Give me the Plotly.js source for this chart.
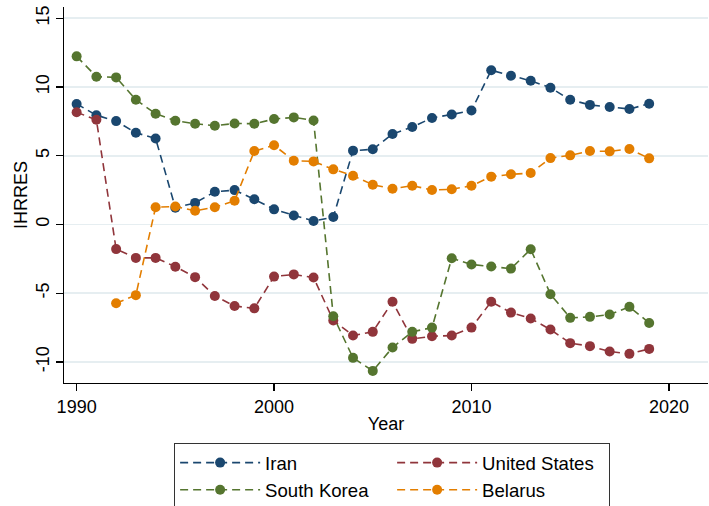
<!DOCTYPE html>
<html>
<head>
<meta charset="utf-8">
<script src="https://cdn.plot.ly/plotly-3.0.1.min.js"></script>
<style>
  html, body { margin: 0; padding: 0; background: #ffffff; }
  #chart { width: 709px; height: 506px; }
</style>
</head>
<body>
<div id="chart"></div>
<script>
// IHRRES by country, 1990-2019
const years = [1990, 1991, 1992, 1993, 1994, 1995, 1996, 1997, 1998, 1999,
               2000, 2001, 2002, 2003, 2004, 2005, 2006, 2007, 2008, 2009,
               2010, 2011, 2012, 2013, 2014, 2015, 2016, 2017, 2018, 2019];

const iran = [8.77, 7.95, 7.52, 6.67, 6.26, 1.22, 1.57, 2.38, 2.5, 1.83,
              1.1, 0.65, 0.25, 0.54, 5.37, 5.47, 6.58, 7.09, 7.75, 8.0,
              8.29, 11.22, 10.82, 10.45, 9.95, 9.07, 8.7, 8.54, 8.4, 8.78];

const unitedStates = [8.16, 7.62, -1.79, -2.43, -2.43, -3.07, -3.83, -5.2, -5.93, -6.1,
                      -3.79, -3.63, -3.86, -6.98, -8.08, -7.81, -5.62, -8.32, -8.13, -8.08,
                      -7.5, -5.62, -6.41, -6.84, -7.64, -8.63, -8.85, -9.24, -9.41, -9.05];

const southKorea = [12.23, 10.75, 10.7, 9.07, 8.06, 7.55, 7.33, 7.18, 7.35, 7.33,
                    7.67, 7.79, 7.57, -6.67, -9.7, -10.65, -8.95, -7.81, -7.5, -2.45,
                    -2.91, -3.05, -3.21, -1.8, -5.07, -6.79, -6.72, -6.55, -5.99, -7.16];

const belarus = [null, null, -5.73, -5.14, 1.25, 1.31, 1.0, 1.25, 1.73, 5.34,
                 5.76, 4.64, 4.59, 4.01, 3.55, 2.89, 2.6, 2.82, 2.51, 2.56,
                 2.82, 3.48, 3.65, 3.74, 4.83, 5.03, 5.34, 5.32, 5.49, 4.81];

const seriesNames = ['Iran', 'United States', 'South Korea', 'Belarus'];
const seriesValues = [iran, unitedStates, southKorea, belarus];
const seriesColors = ['#1a476f', '#90353b', '#55752f', '#e37e00'];

const xTicks = [1990, 2000, 2010, 2020];
const yTicks = [-10, -5, 0, 5, 10, 15];

const FONT = 'Liberation Sans, Arial, Helvetica, sans-serif';

const traces = seriesNames.map((name, i) => ({
  type: 'scatter',
  mode: 'lines+markers',
  name: name,
  x: years,
  y: seriesValues[i],
  connectgaps: false,
  line: { color: seriesColors[i], width: 1.6, dash: '8px,5px' },
  marker: { color: seriesColors[i], size: 10, symbol: 'circle', line: { width: 0 } }
}));

const layout = {
  width: 709,
  height: 506,
  paper_bgcolor: '#ffffff',
  plot_bgcolor: '#ffffff',
  font: { family: FONT, size: 18, color: '#000000' },
  margin: { l: 64, r: 1, t: 7, b: 123, pad: 0 },
  showlegend: true,
  xaxis: {
    range: [1989.36, 2021.98],
    tickmode: 'array',
    tickvals: xTicks,
    ticktext: xTicks.map(String),
    ticks: 'outside',
    ticklen: 7,
    tickwidth: 1.2,
    tickcolor: '#000000',
    showline: true,
    linecolor: '#000000',
    linewidth: 1.3,
    showgrid: false,
    zeroline: false,
    tickfont: { family: FONT, size: 18, color: '#000000' },
    title: { text: 'Year', font: { family: FONT, size: 18, color: '#000000' }, standoff: 1 }
  },
  yaxis: {
    range: [-11.53, 15.82],
    tickmode: 'array',
    tickvals: yTicks,
    ticktext: yTicks.map(String),
    tickangle: -90,
    ticks: 'outside',
    ticklen: 7,
    tickwidth: 1.2,
    tickcolor: '#000000',
    showline: true,
    linecolor: '#000000',
    linewidth: 1.3,
    showgrid: true,
    gridcolor: '#e6eef1',
    gridwidth: 1.6,
    zeroline: false,
    tickfont: { family: FONT, size: 18, color: '#000000' },
    title: { text: 'IHRRES', font: { family: FONT, size: 18, color: '#000000' }, standoff: 0 }
  },
  legend: {
    orientation: 'h',
    xref: 'paper',
    x: 0.171,
    xanchor: 'left',
    yref: 'container',
    y: 0.1245,
    yanchor: 'top',
    bgcolor: '#ffffff',
    bordercolor: '#333333',
    borderwidth: 1,
    font: { family: FONT, size: 18.6, color: '#000000' },
    itemwidth: 80,
    entrywidth: 122,
    entrywidthmode: 'pixels',
    traceorder: 'normal'
  }
};

Plotly.newPlot('chart', traces, layout, { displayModeBar: false, staticPlot: true });
</script>
</body>
</html>
